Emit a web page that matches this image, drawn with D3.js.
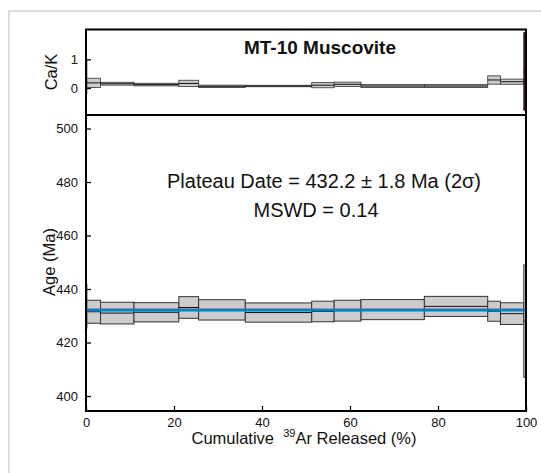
<!DOCTYPE html>
<html><head><meta charset="utf-8">
<script src="https://cdn.jsdelivr.net/npm/d3@7"></script>
<style>
html,body{margin:0;padding:0;background:#fff;}
svg{display:block;font-family:"Liberation Sans",Arial,Helvetica,sans-serif;}
</style></head>
<body><svg id="c" width="541" height="473"></svg>
<script>
// Step boundaries: cumulative 39Ar released (%)
const cumStart = [0, 0.2, 3.3, 10.9, 21.1, 25.6, 36.2, 51.3, 56.4, 62.5, 76.9, 91.3, 94.2, 99.5];
const cumEnd   = [0.2, 3.3, 10.9, 21.1, 25.6, 36.2, 51.3, 56.4, 62.5, 76.9, 91.3, 94.2, 99.5, 100];
// Apparent ages (Ma) and 2-sigma errors
const ages    = [433.6, 431.5, 431.0, 431.3, 433.1, 432.2, 431.2, 431.6, 431.9, 432.3, 433.5, 431.7, 430.8, 428.0];
const ageErr  = [8.2, 4.3, 4.05, 3.6, 4.05, 3.8, 3.6, 3.85, 3.9, 3.75, 3.75, 3.75, 4.05, 21.0];
// Ca/K ratios and errors
const caK     = [0.40, 0.18, 0.15, 0.12, 0.16, 0.06, 0.07, 0.10, 0.13, 0.07, 0.07, 0.28, 0.22, 0.58];
const caKErr  = [0.58, 0.16, 0.05, 0.045, 0.11, 0.04, 0.025, 0.09, 0.075, 0.05, 0.05, 0.145, 0.09, 1.35];
// Plateau
const plateauAge = 432.2;
const plateauRange = [0, 99.8];
const xTicks = [0, 20, 40, 60, 80, 100];
const ageTicks = [400, 420, 440, 460, 480, 500];
const caKTicks = [0, 1];
const titleText = "MT-10 Muscovite";
const plateauText = "Plateau Date = 432.2 ± 1.8 Ma (2σ)";
const mswdText = "MSWD = 0.14";

const steps = cumStart.map((s, i) => ({x0: s, x1: cumEnd[i], age: ages[i], ae: ageErr[i], ck: caK[i], ce: caKErr[i], last: i === cumStart.length - 1}));

const svg = d3.select("#c");
const L = 86, R = 526, T1 = 29.5, B1 = 115, T2 = 115, B2 = 411;

// page frame (left + top light lines)
svg.append("line").attr("x1", 9).attr("x2", 9).attr("y1", 10).attr("y2", 473).attr("stroke", "#dedede").attr("stroke-width", 2);
svg.append("line").attr("x1", 8).attr("x2", 541).attr("y1", 11).attr("y2", 11).attr("stroke", "#dedede").attr("stroke-width", 2);

const x = d3.scaleLinear().domain([0, 100]).range([L, R]);
const yA = d3.scaleLinear().domain([394.4, 505.05]).range([B2, T2]);
const yC = d3.scaleLinear().domain([-0.94, 2.04]).range([B1, T1]);

const defs = svg.append("defs");
defs.append("clipPath").attr("id", "clipTop").append("rect").attr("x", L).attr("y", T1).attr("width", R - L + 1).attr("height", B1 - T1);
defs.append("clipPath").attr("id", "clipMain").append("rect").attr("x", L).attr("y", T2).attr("width", R - L + 1).attr("height", B2 - T2);

// ---- Ca/K panel
const gTop = svg.append("g").attr("clip-path", "url(#clipTop)");
gTop.selectAll("rect.box").data(steps).join("rect").attr("class", "box")
  .attr("x", d => x(d.x0)).attr("width", d => Math.max(0.5, x(d.x1) - x(d.x0)))
  .attr("y", d => yC(d.ck + d.ce)).attr("height", d => yC(d.ck - d.ce) - yC(d.ck + d.ce))
  .attr("fill", d => d.last ? "#5a1414" : "#cccccc")
  .attr("stroke", d => d.last ? "#3a0c0c" : "#444").attr("stroke-width", 0.9);
gTop.selectAll("line.mid").data(steps).join("line").attr("class", "mid")
  .attr("x1", d => x(d.x0)).attr("x2", d => x(d.x1))
  .attr("y1", d => yC(d.ck)).attr("y2", d => yC(d.ck))
  .attr("stroke", "#111").attr("stroke-width", 1);

// ---- Age panel
const gMain = svg.append("g").attr("clip-path", "url(#clipMain)");
gMain.selectAll("rect.box").data(steps).join("rect").attr("class", "box")
  .attr("x", d => x(d.x0)).attr("width", d => Math.max(0.5, x(d.x1) - x(d.x0)))
  .attr("y", d => yA(d.age + d.ae)).attr("height", d => yA(d.age - d.ae) - yA(d.age + d.ae))
  .attr("fill", "#cccccc").attr("stroke", "#333").attr("stroke-width", 1);
gMain.selectAll("line.mid").data(steps).join("line").attr("class", "mid")
  .attr("x1", d => x(d.x0)).attr("x2", d => x(d.x1))
  .attr("y1", d => yA(d.age)).attr("y2", d => yA(d.age))
  .attr("stroke", "#111").attr("stroke-width", 1);
gMain.append("line")
  .attr("x1", x(plateauRange[0])).attr("x2", x(plateauRange[1]))
  .attr("y1", yA(plateauAge)).attr("y2", yA(plateauAge))
  .attr("stroke", "#0d7dc3").attr("stroke-width", 3);

// ---- Axes (inward ticks)
const axStyle = g => {
  g.attr("font-size", 13).attr("font-family", "Liberation Sans, Arial, sans-serif");
  g.select(".domain").remove();
  g.selectAll(".tick line").attr("stroke", "#000").attr("stroke-width", 1.3);
  g.selectAll(".tick text").attr("fill", "#111");
};
svg.append("g").attr("transform", `translate(0,${B2})`)
  .call(d3.axisBottom(x).tickValues(xTicks).tickSizeInner(-5).tickSizeOuter(0).tickPadding(7))
  .call(axStyle);
svg.append("g").attr("transform", `translate(${L},0)`)
  .call(d3.axisLeft(yA).tickValues(ageTicks).tickSizeInner(-5).tickSizeOuter(0).tickPadding(8))
  .call(axStyle);
svg.append("g").attr("transform", `translate(${L},0)`)
  .call(d3.axisLeft(yC).tickValues(caKTicks).tickFormat(d3.format("d")).tickSizeInner(-5).tickSizeOuter(0).tickPadding(8))
  .call(axStyle);

// panel borders
svg.append("rect").attr("x", L).attr("y", T1).attr("width", R - L).attr("height", B1 - T1)
  .attr("fill", "none").attr("stroke", "#000").attr("stroke-width", 2);
svg.append("rect").attr("x", L).attr("y", T2).attr("width", R - L).attr("height", B2 - T2)
  .attr("fill", "none").attr("stroke", "#000").attr("stroke-width", 2);

// ---- Texts
svg.append("text").attr("x", 320).attr("y", 54).attr("text-anchor", "middle")
  .attr("font-size", 19).attr("font-weight", "bold").attr("fill", "#111").text(titleText);
svg.append("text").attr("x", 324).attr("y", 188).attr("text-anchor", "middle")
  .attr("font-size", 20).attr("fill", "#111").text(plateauText);
svg.append("text").attr("x", 316).attr("y", 217).attr("text-anchor", "middle")
  .attr("font-size", 20).attr("fill", "#111").text(mswdText);
svg.append("text").attr("transform", "translate(55,262) rotate(-90)").attr("text-anchor", "middle")
  .attr("font-size", 16.5).attr("fill", "#111").text("Age (Ma)");
svg.append("text").attr("transform", "translate(57,72) rotate(-90)").attr("text-anchor", "middle")
  .attr("font-size", 16.5).attr("fill", "#111").text("Ca/K");
const xt = svg.append("text").attr("x", 304).attr("y", 444).attr("text-anchor", "middle")
  .attr("font-size", 16.5).attr("fill", "#111");
xt.append("tspan").text("Cumulative\u00a0\u00a0");
xt.append("tspan").attr("font-size", 11).attr("dy", -7).text("39");
xt.append("tspan").attr("dy", 7).text("Ar Released (%)");
</script></body></html>
